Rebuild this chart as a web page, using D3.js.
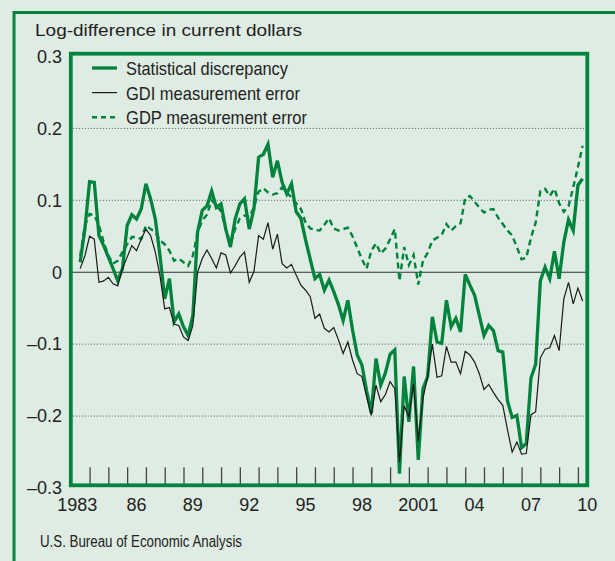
<!DOCTYPE html>
<head>
<meta charset="utf-8">
<title>Statistical discrepancy</title>
<script src="https://cdn.jsdelivr.net/npm/d3@7/dist/d3.min.js"></script>
<style>
	body { margin: 0; background: #dfece3; }
	text { font-family: "Liberation Sans", Arial, sans-serif; fill: #222; }
</style>
</head>

<body>
<script>
var width = 615;
var height = 561;
var green = "#00843d";
var bg = "#dfece3";

// data: quarterly, 1983 Q2 .. 2010 Q1
var startYear = 1983, startQuarter = 2;

var statDiscrepancy = [
	0.014, 0.06, 0.126, 0.125, 0.051, 0.037, 0.021, 0.005, -0.012, 0.005,
	0.065, 0.08, 0.074, 0.088, 0.123, 0.102, 0.074, 0.023, -0.037, -0.009,
	-0.069, -0.058, -0.076, -0.088, -0.06, 0.056, 0.086, 0.092, 0.113, 0.09,
	0.095, 0.06, 0.035, 0.074, 0.095, 0.102, 0.06, 0.088, 0.16, 0.164,
	0.178, 0.132, 0.155, 0.125, 0.109, 0.123, 0.084, 0.075, 0.045, 0.018,
	-0.009, -0.003, -0.025, -0.011, -0.027, -0.045, -0.067, -0.039, -0.08, -0.115,
	-0.129, -0.165, -0.196, -0.12, -0.157, -0.14, -0.114, -0.108, -0.28, -0.145,
	-0.208, -0.131, -0.261, -0.162, -0.145, -0.062, -0.097, -0.099, -0.039, -0.076,
	-0.064, -0.083, -0.003, -0.018, -0.032, -0.06, -0.088, -0.074, -0.081, -0.109,
	-0.111, -0.179, -0.202, -0.199, -0.244, -0.238, -0.147, -0.128, -0.012, 0.007,
	-0.009, 0.029, -0.009, 0.042, 0.073, 0.058, 0.121, 0.13
];

var gdiError = [
	0.005, 0.023, 0.05, 0.046, -0.014, -0.012, -0.007, -0.016, -0.019, 0.005,
	0.021, 0.037, 0.03, 0.046, 0.06, 0.051, 0.028, -0.005, -0.051, -0.049,
	-0.072, -0.074, -0.09, -0.095, -0.074, 0.0, 0.019, 0.031, 0.019, 0.006,
	0.027, 0.024, -0.001, 0.009, 0.021, 0.028, -0.014, 0.001, 0.051, 0.046,
	0.069, 0.032, 0.053, 0.012, 0.006, 0.011, -0.004, -0.018, -0.025, -0.034,
	-0.064, -0.058, -0.078, -0.083, -0.077, -0.094, -0.113, -0.097, -0.122, -0.141,
	-0.145, -0.173, -0.199, -0.157, -0.18, -0.17, -0.152, -0.162, -0.264, -0.186,
	-0.201, -0.155, -0.235, -0.175, -0.145, -0.1, -0.146, -0.144, -0.103, -0.125,
	-0.125, -0.141, -0.11, -0.115, -0.125, -0.141, -0.163, -0.156, -0.167, -0.177,
	-0.185, -0.219, -0.25, -0.236, -0.253, -0.252, -0.198, -0.194, -0.119, -0.107,
	-0.105, -0.088, -0.109, -0.037, -0.014, -0.044, -0.022, -0.04
];

var gdpError = [
	0.023, 0.065, 0.081, 0.079, 0.065, 0.042, 0.023, 0.012, 0.016, 0.028,
	0.039, 0.049, 0.049, 0.046, 0.065, 0.06, 0.056, 0.044, 0.039, 0.03,
	0.016, 0.019, 0.014, 0.009, 0.023, 0.055, 0.072, 0.08, 0.1, 0.093,
	0.085, 0.06, 0.04, 0.06, 0.075, 0.079, 0.077, 0.09, 0.112, 0.117,
	0.111, 0.108, 0.11, 0.118, 0.111, 0.104, 0.096, 0.088, 0.069, 0.061,
	0.059, 0.058, 0.066, 0.075, 0.061, 0.058, 0.06, 0.062, 0.05, 0.034,
	0.018, 0.005, 0.03, 0.04, 0.026, 0.033, 0.046, 0.06, -0.012, 0.035,
	0.01, 0.024, -0.017, 0.016, 0.027, 0.044, 0.048, 0.052, 0.067, 0.058,
	0.064, 0.068, 0.103, 0.106, 0.098, 0.09, 0.083, 0.087, 0.088, 0.076,
	0.067, 0.058, 0.051, 0.035, 0.018, 0.02, 0.048, 0.069, 0.113, 0.116,
	0.106, 0.116, 0.096, 0.084, 0.092, 0.118, 0.146, 0.176
];

var yTicks = [0.3, 0.2, 0.1, 0, -0.1, -0.2, -0.3];
var yTickLabels = ["0.3", "0.2", "0.1", "0", "\u20130.1", "\u20130.2", "\u20130.3"];
var xLabelYears = [1983, 1986, 1989, 1992, 1995, 1998, 2001, 2004, 2007, 2010];
var xLabels = ["1983", "86", "89", "92", "95", "98", "2001", "04", "07", "10"];
var tickYears = d3.range(1984, 2011);

var legendNames = ["Statistical discrepancy", "GDI measurement error", "GDP measurement error"];

// position of each quarter on the year axis (end of quarter)
var times = statDiscrepancy.map(function(d, i) {
	var q = startQuarter - 1 + i;
	return startYear + Math.floor(q / 4) + ((q % 4) + 1) / 4;
});

var svg = d3.select("body").append("svg")
	.attr("width", width)
	.attr("height", height);

svg.append("rect").attr("width", width).attr("height", height).style("fill", bg);

// outer frame
svg.append("path")
	.attr("d", "M14," + height + "V12.5H" + width)
	.style("fill", "none").style("stroke", green).style("stroke-width", 3);

var box = {left: 70.8, right: 587.3, top: 53.7, bottom: 485.3};

var xScale = d3.scaleLinear().domain([1983, 2010.5]).range([box.left, box.right]);
var yScale = d3.scaleLinear().domain([-0.3, 0.3]).range([488, 56.5]);

// title
svg.append("text")
	.attr("x", 35).attr("y", 35.5)
	.attr("textLength", 267).attr("lengthAdjust", "spacingAndGlyphs")
	.style("font-size", "17px")
	.text("Log-difference in current dollars");

// gridlines
svg.selectAll(".grid").data([0.2, 0.1, -0.1, -0.2]).enter()
	.append("line")
	.attr("x1", box.left + 2).attr("x2", box.right - 2)
	.attr("y1", function(d) { return yScale(d); })
	.attr("y2", function(d) { return yScale(d); })
	.style("stroke", "#555").style("stroke-width", 1)
	.style("stroke-dasharray", "1,2");

svg.append("line")
	.attr("x1", box.left).attr("x2", box.right)
	.attr("y1", yScale(0)).attr("y2", yScale(0))
	.style("stroke", "#333").style("stroke-width", 1.2);

// year ticks inside the box
var xAxis = d3.axisBottom(xScale).tickValues(tickYears).tickSize(-17).tickFormat("");
var gx = svg.append("g").attr("transform", "translate(0," + (box.bottom - 1) + ")").call(xAxis);
gx.select(".domain").remove();
gx.selectAll("line").style("stroke", "#444").style("stroke-width", 1.3);

// lines
var line = d3.line()
	.x(function(d, i) { return xScale(times[i]); })
	.y(function(d) { return yScale(d); });

svg.append("path").datum(gdpError)
	.attr("d", line)
	.style("fill", "none").style("stroke", green).style("stroke-width", 2.4)
	.style("stroke-dasharray", "6,4");

svg.append("path").datum(statDiscrepancy)
	.attr("d", line)
	.style("fill", "none").style("stroke", green).style("stroke-width", 3.3);

svg.append("path").datum(gdiError)
	.attr("d", line)
	.style("fill", "none").style("stroke", "#1a1a1a").style("stroke-width", 1.2);

// plot frame
svg.append("rect")
	.attr("x", box.left).attr("y", box.top)
	.attr("width", box.right - box.left).attr("height", box.bottom - box.top)
	.style("fill", "none").style("stroke", green).style("stroke-width", 3.8);

// y labels
svg.selectAll(".ylab").data(yTicks).enter()
	.append("text")
	.attr("x", 62)
	.attr("y", function(d) { return yScale(d) + 6.3; })
	.attr("text-anchor", "end")
	.style("font-size", "18px")
	.text(function(d, i) { return yTickLabels[i]; });

// x labels
svg.selectAll(".xlab").data(xLabelYears).enter()
	.append("text")
	.attr("x", function(d, i) { return xScale(d + 0.5) - (i == 0 ? 3 : 0); })
	.attr("y", 511)
	.attr("text-anchor", "middle")
	.style("font-size", "18px")
	.text(function(d, i) { return xLabels[i]; });

// legend
var legendLen = [162, 174, 181];
var legend = svg.selectAll(".legend").data(legendNames).enter()
	.append("g")
	.attr("transform", function(d, i) { return "translate(92," + (68 + i * 24.6) + ")"; });

legend.append("line")
	.attr("x1", 0).attr("x2", 25).attr("y1", 0).attr("y2", 0)
	.style("stroke", function(d, i) { return i == 1 ? "#1a1a1a" : green; })
	.style("stroke-width", function(d, i) { return i == 0 ? 3.3 : (i == 1 ? 1.2 : 2.4); })
	.style("stroke-dasharray", function(d, i) { return i == 2 ? "5,4" : null; });

legend.append("text")
	.attr("x", 34).attr("y", 7)
	.attr("textLength", function(d, i) { return legendLen[i]; })
	.attr("lengthAdjust", "spacingAndGlyphs")
	.style("font-size", "19px")
	.text(function(d) { return d; });

// source
svg.append("text")
	.attr("x", 40).attr("y", 547)
	.attr("textLength", 202).attr("lengthAdjust", "spacingAndGlyphs")
	.style("font-size", "16px")
	.text("U.S. Bureau of Economic Analysis");
</script>
</body>
